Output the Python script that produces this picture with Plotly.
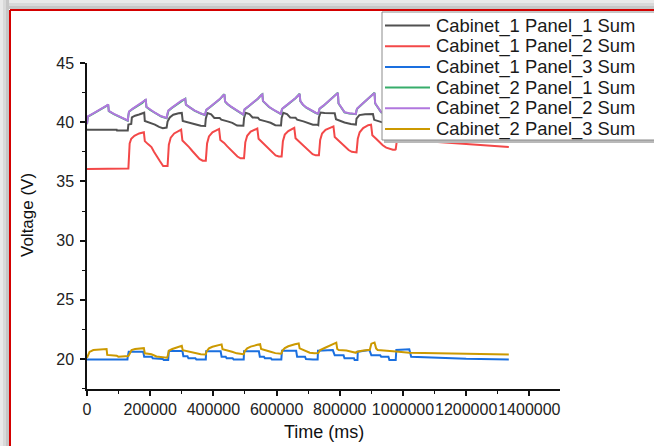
import plotly.graph_objects as go

# Time values are stored in thousands of milliseconds; voltages in volts.
TIME_SCALE = 1000

black_t = [0, 94, 95, 129,
           131, 140, 142, 152, 165, 178, 181, 183, 195, 206, 215, 228, 240, 252,
           255, 262, 273, 290, 300, 303, 315, 330, 345, 360, 374,
           376, 381, 393, 403, 420, 425, 445, 460, 475, 490, 495,
           497, 502, 514, 524, 541, 546, 566, 581, 596, 611, 614,
           616, 621, 633, 643, 660, 665, 685, 700, 715, 730, 732,
           734, 739, 752, 784, 788, 800, 815, 835, 851,
           853, 862, 880, 905, 909, 925, 945, 965, 975,
           977, 985, 1020, 1025, 1100, 1335]
black_v = [39.37, 39.37, 39.3, 39.3,
           39.8, 39.85, 40.4, 40.55, 40.65, 40.78, 40.8, 40.1, 40.0, 39.92, 39.8, 39.6, 39.5, 39.55,
           40.05, 40.4, 40.63, 40.75, 40.78, 40.1, 40.0, 39.9, 39.8, 39.7, 39.68,
           40.3, 40.78, 40.67, 40.36, 40.36, 40.22, 40.07, 39.94, 39.72, 39.75, 39.7,
           40.35, 40.8, 40.68, 40.4, 40.38, 40.22, 40.07, 39.95, 39.75, 39.75, 39.72,
           40.35, 40.8, 40.68, 40.4, 40.38, 40.22, 40.07, 39.95, 39.78, 39.78, 39.75,
           40.4, 40.82, 40.78, 40.75, 40.25, 40.1, 39.98, 39.85, 39.8,
           40.3, 40.6, 40.68, 40.7, 40.2, 40.05, 39.9, 39.8, 39.8,
           40.4, 40.7, 40.7, 40.1, 40.0, 39.95]

red_t = [0, 128,
         131, 135, 140, 150, 165, 180, 183, 193, 204, 212, 220, 231, 241, 252,
         255, 259, 265, 276, 292, 298, 302, 313, 323, 334, 345, 356, 366, 374,
         376, 380, 386, 397, 413, 418, 422, 434, 444, 455, 466, 476, 486, 495,
         497, 501, 507, 518, 534, 539, 543, 555, 565, 576, 587, 597, 607, 614,
         616, 620, 626, 637, 651, 656, 660, 672, 682, 693, 704, 714, 724, 732,
         734, 738, 744, 755, 772, 780, 784, 796, 806, 817, 828, 838, 848, 851,
         853, 857, 863, 874, 890, 899, 903, 915, 925, 936, 947, 958, 968, 975,
         977, 981, 995, 1020, 1068, 1147, 1250, 1335]
red_v = [36.05, 36.05,
         36.1, 38.2, 38.6, 38.85, 39.05, 39.15, 38.4, 38.15, 37.9, 37.5, 37.2, 36.7, 36.3, 36.25,
         36.3, 38.1, 38.7, 39.05, 39.3, 39.37, 38.45, 38.2, 37.9, 37.55, 37.2, 36.9, 36.75, 36.7,
         36.75, 38.2, 38.8, 39.15, 39.37, 39.43, 38.5, 38.25, 37.96, 37.68, 37.4, 37.1, 36.95, 36.9,
         36.95, 38.3, 38.85, 39.2, 39.4, 39.47, 38.6, 38.3, 38.0, 37.75, 37.45, 37.2, 37.1, 37.07,
         37.1, 38.4, 38.95, 39.25, 39.45, 39.52, 38.65, 38.35, 38.05, 37.8, 37.5, 37.3, 37.2, 37.18,
         37.2, 38.5, 39.05, 39.35, 39.6, 39.65, 38.75, 38.45, 38.15, 37.9, 37.65, 37.5, 37.44, 37.42,
         37.45, 38.6, 39.15, 39.5, 39.75, 39.8, 38.9, 38.6, 38.3, 38.05, 37.85, 37.72, 37.67, 37.67,
         37.7, 38.5, 38.6, 38.5, 38.4, 38.25, 38.05, 37.9]

blue_t = [0, 94, 95, 125, 128,
          129, 132, 178, 181, 205, 208, 240, 243, 257,
          259, 302, 305, 318, 321, 343, 346, 376,
          377, 423, 426, 439, 442, 461, 464, 496,
          497, 544, 547, 560, 563, 582, 585, 615,
          617, 662, 665, 690, 693, 715, 730,
          731, 778, 784, 812, 815, 845, 847, 856,
          857, 894, 900, 928, 931, 954, 957, 977,
          979, 1020, 1026, 1100, 1200, 1335]
blue_v = [19.97, 19.97, 19.92, 19.92, 19.97,
          20.2, 20.62, 20.62, 20.2, 20.2, 20.06, 20.0, 19.92, 19.92,
          20.68, 20.68, 20.24, 20.24, 20.06, 20.06, 19.97, 19.97,
          20.65, 20.65, 20.2, 20.2, 20.06, 20.06, 19.97, 19.97,
          20.66, 20.66, 20.2, 20.2, 20.06, 20.06, 19.97, 19.97,
          20.7, 20.7, 20.2, 20.2, 20.0, 19.97, 19.97,
          20.7, 20.76, 20.31, 20.31, 20.06, 20.06, 19.92, 19.92,
          20.62, 20.76, 20.31, 20.31, 20.2, 20.2, 19.92, 19.92,
          20.76, 20.82, 20.2, 20.1, 20.02, 19.97]

purple_t = [0, 3, 20, 45, 62, 67, 69, 85, 100, 115, 129,
            131, 133, 145, 160, 175, 186, 188, 200, 215, 235, 252,
            255, 258, 270, 285, 300, 311, 313, 325, 340, 360, 374,
            376, 378, 390, 405, 420, 431, 435, 437, 444, 455, 470, 485, 495,
            497, 499, 511, 526, 541, 552, 555, 557, 565, 576, 591, 606, 614,
            616, 618, 630, 645, 660, 670, 673, 675, 683, 694, 709, 724, 732,
            734, 736, 748, 763, 780, 791, 794, 796, 805, 815, 830, 851,
            853, 855, 867, 882, 897, 907, 910, 912, 921, 931, 950, 975,
            977, 990, 1020, 1025, 1100, 1335]
purple_v = [39.85, 40.5, 40.75, 41.1, 41.4, 41.5, 40.95, 40.7, 40.5, 40.3, 40.15,
            40.6, 40.9, 41.15, 41.4, 41.65, 41.9, 41.3, 41.05, 40.8, 40.5, 40.36,
            40.8, 41.0, 41.25, 41.55, 41.85, 41.96, 41.5, 41.25, 41.0, 40.75, 40.62,
            40.9, 41.06, 41.3, 41.6, 41.95, 42.25, 42.33, 41.76, 41.56, 41.34, 41.06, 40.8, 40.65,
            40.95, 41.1, 41.35, 41.65, 42.0, 42.3, 42.35, 41.8, 41.55, 41.3, 41.05, 40.8, 40.7,
            41.0, 41.15, 41.4, 41.7, 42.05, 42.3, 42.38, 41.8, 41.5, 41.25, 41.0, 40.8, 40.72,
            41.0, 41.15, 41.4, 41.75, 42.1, 42.4, 42.47, 41.6, 41.2, 40.85, 40.75, 40.7,
            41.0, 41.15, 41.45, 41.8, 42.15, 42.4, 42.47, 41.6, 41.2, 40.85, 40.75, 40.7,
            41.0, 41.3, 41.5, 40.9, 40.7, 40.6]

# Cabinet_2 Panel_1 runs almost on top of Cabinet_2 Panel_2
green_t = [0, 3, 20, 45, 62, 67, 69, 85, 100, 115, 129,
           131, 133, 145, 160, 175, 186, 188, 200, 215, 235, 252,
           255, 258, 270, 285, 300, 311, 313, 325, 340, 360, 374,
           376, 378, 390, 405, 420, 431, 435, 437, 444, 455, 470, 485, 495,
           497, 499, 511, 526, 541, 552, 555, 557, 565, 576, 591, 606, 614,
           616, 618, 630, 645, 660, 670, 673, 675, 683, 694, 709, 724, 732,
           734, 736, 748, 763, 780, 791, 794, 796, 805, 815, 830, 851,
           853, 855, 867, 882, 897, 907, 910, 912, 921, 931, 950, 975,
           977, 990, 1020, 1025, 1100, 1335]
green_v = [39.83, 40.48, 40.73, 41.08, 41.38, 41.48, 40.93, 40.68, 40.48, 40.28, 40.13,
           40.58, 40.88, 41.13, 41.38, 41.63, 41.92, 41.28, 41.03, 40.78, 40.48, 40.34,
           40.78, 40.98, 41.23, 41.53, 41.83, 41.98, 41.48, 41.23, 40.98, 40.73, 40.6,
           40.88, 41.04, 41.28, 41.58, 41.93, 42.27, 42.35, 41.74, 41.54, 41.32, 41.04, 40.78, 40.63,
           40.93, 41.08, 41.33, 41.63, 41.98, 42.32, 42.37, 41.78, 41.53, 41.28, 41.03, 40.78, 40.68,
           40.98, 41.13, 41.38, 41.68, 42.03, 42.32, 42.4, 41.78, 41.48, 41.23, 40.98, 40.78, 40.7,
           40.98, 41.13, 41.38, 41.73, 42.08, 42.42, 42.49, 41.58, 41.18, 40.83, 40.73, 40.68,
           40.98, 41.13, 41.43, 41.78, 42.13, 42.42, 42.49, 41.58, 41.18, 40.83, 40.73, 40.68,
           40.98, 41.28, 41.48, 40.88, 40.68, 40.58]

yellow_t = [0, 4, 8, 20, 62, 64, 94, 99, 129,
            131, 136, 141, 152, 180, 183, 204, 220, 246, 253,
            255, 259, 270, 285, 296, 300, 303, 320, 340, 360, 374,
            376, 378, 386, 397, 418, 426, 429, 444, 459, 474, 489, 495,
            497, 499, 507, 518, 539, 548, 551, 566, 581, 596, 611, 614,
            616, 618, 626, 637, 658, 670, 673, 684, 705, 720, 732,
            734, 738, 752, 778, 789, 792, 797, 821, 847, 851,
            853, 870, 895, 900, 910, 915, 920, 968, 978, 1020,
            1100, 1200, 1335]
yellow_v = [20.1, 20.35, 20.6, 20.76, 20.84, 20.35, 20.28, 20.2, 20.2,
            20.25, 20.48, 20.76, 20.84, 20.92, 20.48, 20.4, 20.22, 20.12, 20.12,
            20.2, 20.7, 20.85, 21.0, 21.08, 21.12, 20.75, 20.65, 20.5, 20.4, 20.38,
            20.42, 20.62, 20.9, 21.04, 21.18, 21.24, 20.84, 20.76, 20.62, 20.48, 20.4, 20.4,
            20.45, 20.65, 20.9, 21.05, 21.2, 21.26, 20.85, 20.76, 20.62, 20.5, 20.45, 20.45,
            20.5, 20.7, 20.92, 21.08, 21.25, 21.32, 20.9, 20.76, 20.53, 20.48, 20.5,
            20.6, 20.76, 20.93, 21.2, 21.38, 20.85, 20.76, 20.72, 20.53, 20.53,
            20.6, 20.7, 20.78, 21.3, 21.4, 20.9, 20.76, 20.7, 20.64, 20.53,
            20.48, 20.42, 20.38]

series_names = ["Cabinet_1 Panel_1 Sum", "Cabinet_1 Panel_2 Sum", "Cabinet_1 Panel_3 Sum",
                "Cabinet_2 Panel_1 Sum", "Cabinet_2 Panel_2 Sum", "Cabinet_2 Panel_3 Sum"]
series_times = [black_t, red_t, blue_t, green_t, purple_t, yellow_t]
series_volts = [black_v, red_v, blue_v, green_v, purple_v, yellow_v]
series_colors = ["#515151", "#F34848", "#1A6FDF", "#37AD6B", "#B177DE", "#CC9900"]

x_ticks = [0, 200000, 400000, 600000, 800000, 1000000, 1200000, 1400000]
y_ticks = [20, 25, 30, 35, 40, 45]
x_title = "Time (ms)"
y_title = "Voltage (V)"

W, H = 654, 446
ML, MR, MT, MB = 87, 94, 63, 57
PW, PH = W - ML - MR, H - MT - MB
FONT = "Liberation Sans, Arial, sans-serif"


def fx(px):
    return (px - ML) / PW


def fy(py):
    return (H - MB - py) / PH


fig = go.Figure()
for name, t, v, c in zip(series_names, series_times, series_volts, series_colors):
    fig.add_trace(go.Scatter(
        x=[ti * TIME_SCALE for ti in t], y=v, mode="lines", name=name,
        line=dict(color=c, width=2), showlegend=False))

shapes = []
# drop shadow along the top and left edge of the framed page
for i, col in enumerate(["#e9e9e9", "#d9d9d9", "#c6c6c6"]):
    a, b = 3 * i, 3 * i + 3
    shapes.append(dict(type="rect", xref="paper", yref="paper", x0=fx(a), x1=fx(b),
                       y0=fy(H + 2), y1=fy(0), fillcolor=col, line_width=0, layer="above"))
    shapes.append(dict(type="rect", xref="paper", yref="paper", x0=fx(a), x1=fx(W + 2),
                       y0=fy(b), y1=fy(a), fillcolor=col, line_width=0, layer="above"))
# red frame
shapes.append(dict(type="line", xref="paper", yref="paper", x0=fx(10), x1=fx(W + 2),
                   y0=fy(10), y1=fy(10), line=dict(color="#d40000", width=2), layer="above"))
shapes.append(dict(type="line", xref="paper", yref="paper", x0=fx(10), x1=fx(10),
                   y0=fy(10), y1=fy(H + 2), line=dict(color="#d40000", width=2), layer="above"))

# legend box
LX0, LX1, LY0, LY1 = 382, W + 6, 12, 140
shapes.append(dict(type="rect", xref="paper", yref="paper", x0=fx(LX0 + 2), x1=fx(LX1),
                   y0=fy(LY1 + 3), y1=fy(LY0 + 2), fillcolor="#b9b9b9", line_width=0, layer="above"))
shapes.append(dict(type="rect", xref="paper", yref="paper", x0=fx(LX0), x1=fx(LX1),
                   y0=fy(LY1), y1=fy(LY0), fillcolor="white",
                   line=dict(color="#8c8c8c", width=1), layer="above"))
annotations = []
for i, (name, c) in enumerate(zip(series_names, series_colors)):
    yc = 25.5 + 20.7 * i
    shapes.append(dict(type="line", xref="paper", yref="paper", x0=fx(385), x1=fx(430),
                       y0=fy(yc), y1=fy(yc), line=dict(color=c, width=2), layer="above"))
    annotations.append(dict(xref="paper", yref="paper", x=fx(435), y=fy(yc), text=name,
                            showarrow=False, xanchor="left", yanchor="middle", borderpad=0,
                            font=dict(family=FONT, size=18.4, color="#1a1a1a")))

# axis titles
annotations.append(dict(xref="paper", yref="paper", x=fx(323.5), y=fy(432), text=x_title,
                        showarrow=False, xanchor="center", yanchor="middle",
                        font=dict(family=FONT, size=18, color="#111111")))
annotations.append(dict(xref="paper", yref="paper", x=fx(27), y=fy(215), text=y_title,
                        showarrow=False, xanchor="center", yanchor="middle", textangle=-90,
                        font=dict(family=FONT, size=17, color="#111111")))

axis_common = dict(showgrid=False, zeroline=False, showline=True, linecolor="#111111",
                   linewidth=1.5, ticks="outside", ticklen=5, tickwidth=1.5,
                   tickcolor="#111111", automargin=False,
                   tickfont=dict(family=FONT, size=16, color="#222222"))

fig.update_layout(
    width=W, height=H, autosize=False,
    margin=dict(l=ML, r=MR, t=MT, b=MB, pad=0),
    paper_bgcolor="white", plot_bgcolor="white",
    shapes=shapes, annotations=annotations,
    font=dict(family=FONT, color="#222222"),
    xaxis=dict(range=[0, 1497000], tickmode="array", tickvals=x_ticks,
               ticktext=[str(v) for v in x_ticks], tickangle=0,
               minor=dict(tickmode="array",
                          tickvals=[100000, 300000, 500000, 700000, 900000, 1100000, 1300000],
                          ticks="outside", ticklen=3, tickwidth=1.2, tickcolor="#111111"),
               **axis_common),
    yaxis=dict(range=[17.47, 45], tickmode="array", tickvals=y_ticks, ticklabelstandoff=3,
               minor=dict(tickmode="array", tickvals=[17.5, 22.5, 27.5, 32.5, 37.5, 42.5],
                          ticks="outside", ticklen=3, tickwidth=1.2, tickcolor="#111111"),
               **axis_common),
)

fig.write_html("out.html")
